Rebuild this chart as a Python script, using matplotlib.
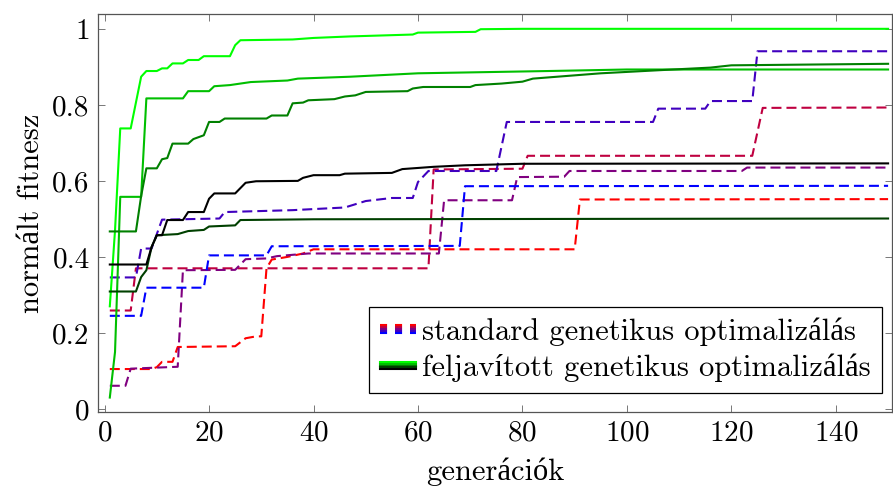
import matplotlib
matplotlib.use("Agg")
import matplotlib.pyplot as plt
from matplotlib.lines import Line2D
from matplotlib.ticker import FuncFormatter

# standard GA runs (dashed), breakpoints: generation / normalised fitness
red_x = [1, 9, 10, 11, 13, 14, 25, 27, 29, 30, 31, 32, 35, 38, 40, 90, 91, 150]
red_y = [0.105, 0.105, 0.11, 0.124, 0.124, 0.163, 0.165, 0.186, 0.191, 0.191,
         0.37, 0.393, 0.4, 0.409, 0.42, 0.42, 0.551, 0.552]
crim_x = [1, 5, 6, 62, 63, 80, 81, 124, 126, 150]
crim_y = [0.259, 0.259, 0.37, 0.37, 0.63, 0.632, 0.666, 0.666, 0.792, 0.793]
viol_x = [1, 4, 5, 14, 15, 25, 27, 31, 33, 39, 64, 65, 78, 79, 88, 89, 122, 123, 150]
viol_y = [0.061, 0.061, 0.106, 0.111, 0.365, 0.366, 0.394, 0.396, 0.402, 0.409,
          0.409, 0.549, 0.549, 0.61, 0.611, 0.626, 0.626, 0.635, 0.635]
indi_x = [1, 6, 7, 9, 11, 22, 23, 36, 46, 50, 55, 59, 60, 62, 75, 77, 105, 106,
          115, 116, 124, 125, 150]
indi_y = [0.346, 0.346, 0.422, 0.422, 0.498, 0.501, 0.518, 0.523, 0.53, 0.547,
          0.555, 0.555, 0.597, 0.626, 0.626, 0.755, 0.755, 0.79, 0.79, 0.81,
          0.81, 0.941, 0.941]
blue_x = [1, 7, 8, 19, 20, 31, 32, 68, 69, 150]
blue_y = [0.245, 0.245, 0.319, 0.319, 0.404, 0.404, 0.428, 0.429, 0.586, 0.587]

# improved GA runs (solid)
lime_x = [1, 2, 3, 5, 7, 8, 10, 11, 12, 13, 15, 16, 18, 19, 24, 25, 26, 36, 40,
          47, 59, 60, 71, 72, 80, 150]
lime_y = [0.27, 0.47, 0.738, 0.738, 0.874, 0.889, 0.889, 0.896, 0.896, 0.909,
          0.909, 0.918, 0.918, 0.928, 0.928, 0.957, 0.97, 0.972, 0.976, 0.98,
          0.985, 0.99, 0.992, 0.999, 1.0, 1.0]
mid_x = [1, 2, 3, 7, 8, 15, 16, 20, 21, 24, 28, 35, 37, 47, 60, 85, 100, 150]
mid_y = [0.03, 0.15, 0.558, 0.558, 0.817, 0.817, 0.836, 0.836, 0.849, 0.852,
         0.86, 0.864, 0.869, 0.874, 0.883, 0.889, 0.893, 0.893]
dark_x = [1, 6, 7, 8, 10, 11, 12, 13, 16, 17, 19, 20, 22, 23, 31, 32, 35, 36,
          38, 39, 44, 46, 48, 50, 58, 59, 61, 70, 71, 76, 80, 82, 95, 106, 116,
          120, 150]
dark_y = [0.467, 0.467, 0.56, 0.633, 0.633, 0.657, 0.66, 0.698, 0.698, 0.71,
          0.72, 0.755, 0.755, 0.764, 0.764, 0.772, 0.772, 0.804, 0.806, 0.812,
          0.815, 0.822, 0.825, 0.834, 0.836, 0.843, 0.847, 0.847, 0.852, 0.856,
          0.861, 0.869, 0.883, 0.891, 0.898, 0.904, 0.908]
vdark_x = [1, 6, 7, 8, 9, 10, 14, 16, 19, 20, 25, 26, 40, 150]
vdark_y = [0.309, 0.309, 0.347, 0.365, 0.426, 0.457, 0.46, 0.468, 0.471, 0.48,
           0.483, 0.497, 0.499, 0.501]
black_x = [1, 8, 9, 10, 11, 12, 15, 16, 19, 20, 21, 25, 27, 29, 37, 38, 40, 45,
           46, 55, 57, 63, 69, 80, 150]
black_y = [0.38, 0.38, 0.426, 0.457, 0.457, 0.497, 0.497, 0.518, 0.518, 0.553,
           0.567, 0.567, 0.595, 0.599, 0.6, 0.608, 0.615, 0.615, 0.619, 0.621,
           0.631, 0.637, 0.641, 0.645, 0.646]

std_runs = [(red_x, red_y), (crim_x, crim_y), (viol_x, viol_y),
            (indi_x, indi_y), (blue_x, blue_y)]
std_colors = ["#ff0000", "#bf0040", "#800080", "#4000bf", "#0000ff"]
imp_runs = [(lime_x, lime_y), (mid_x, mid_y), (dark_x, dark_y),
            (vdark_x, vdark_y), (black_x, black_y)]
imp_colors = ["#00ff00", "#00bf00", "#008000", "#004000", "#000000"]

plt.rcParams["font.family"] = ["cmr10", "Liberation Serif"]
plt.rcParams["axes.formatter.use_mathtext"] = True
plt.rcParams["font.size"] = 21

dash = (0, (4.8, 2.4))
lw = 1.5

fig = plt.figure(figsize=(8.93, 4.87), dpi=100)
ax = fig.add_axes([98 / 893, 1 - 412 / 487, 794 / 893, 398 / 487])

for (xs, ys), c in zip(std_runs, std_colors):
    ax.plot(xs, ys, color=c, lw=lw, ls=dash)
for (xs, ys), c in zip(imp_runs, imp_colors):
    ax.plot(xs, ys, color=c, lw=lw)

ax.set_xlim(-1.26, 150.75)
ax.set_ylim(-0.008, 1.039)
ax.set_xticks([0, 20, 40, 60, 80, 100, 120, 140])
ax.set_yticks([0, 0.2, 0.4, 0.6, 0.8, 1.0])
ax.yaxis.set_major_formatter(FuncFormatter(lambda v, p: "%g" % v))
ax.tick_params(direction="in", length=5, width=0.7, color="#777777",
               top=True, right=True, pad=6)
for s in ax.spines.values():
    s.set_color("#555555")
    s.set_linewidth(0.9)

ax.set_xlabel("generációk", fontsize=22, labelpad=8)
ax.set_ylabel("normált fitnesz", fontsize=22, labelpad=5)


class StackHandler:
    """draws a small stack of lines, one per colour"""
    def __init__(self, colors, ls, gap=1.4):
        self.colors = colors
        self.ls = ls
        self.gap = gap

    def legend_artist(self, legend, orig_handle, fontsize, handlebox):
        x0, y0 = handlebox.xdescent, handlebox.ydescent
        w, h = handlebox.width, handlebox.height
        n = len(self.colors)
        for i, c in enumerate(self.colors):
            y = y0 + h / 2 + ((n - 1) / 2 - i) * self.gap
            ln = Line2D([x0, x0 + w], [y, y], color=c, lw=1.5, ls=self.ls)
            handlebox.add_artist(ln)
        return ln


h_std = Line2D([], [])
h_imp = Line2D([], [])
leg = ax.legend([h_std, h_imp],
                ["standard genetikus optimalizálás",
                 "feljavított genetikus optimalizálás"],
                handler_map={h_std: StackHandler(std_colors, (0, (3.4, 3.8))),
                             h_imp: StackHandler(imp_colors, "-")},
                loc="lower right", bbox_to_anchor=(0.987, 0.048),
                fontsize=22, frameon=True, fancybox=False, edgecolor="black",
                framealpha=1, handlelength=1.2, handletextpad=0.2,
                borderpad=0.35, labelspacing=0.25, borderaxespad=0)
leg.get_frame().set_linewidth(0.9)

fig.savefig("out.png", dpi=100)
